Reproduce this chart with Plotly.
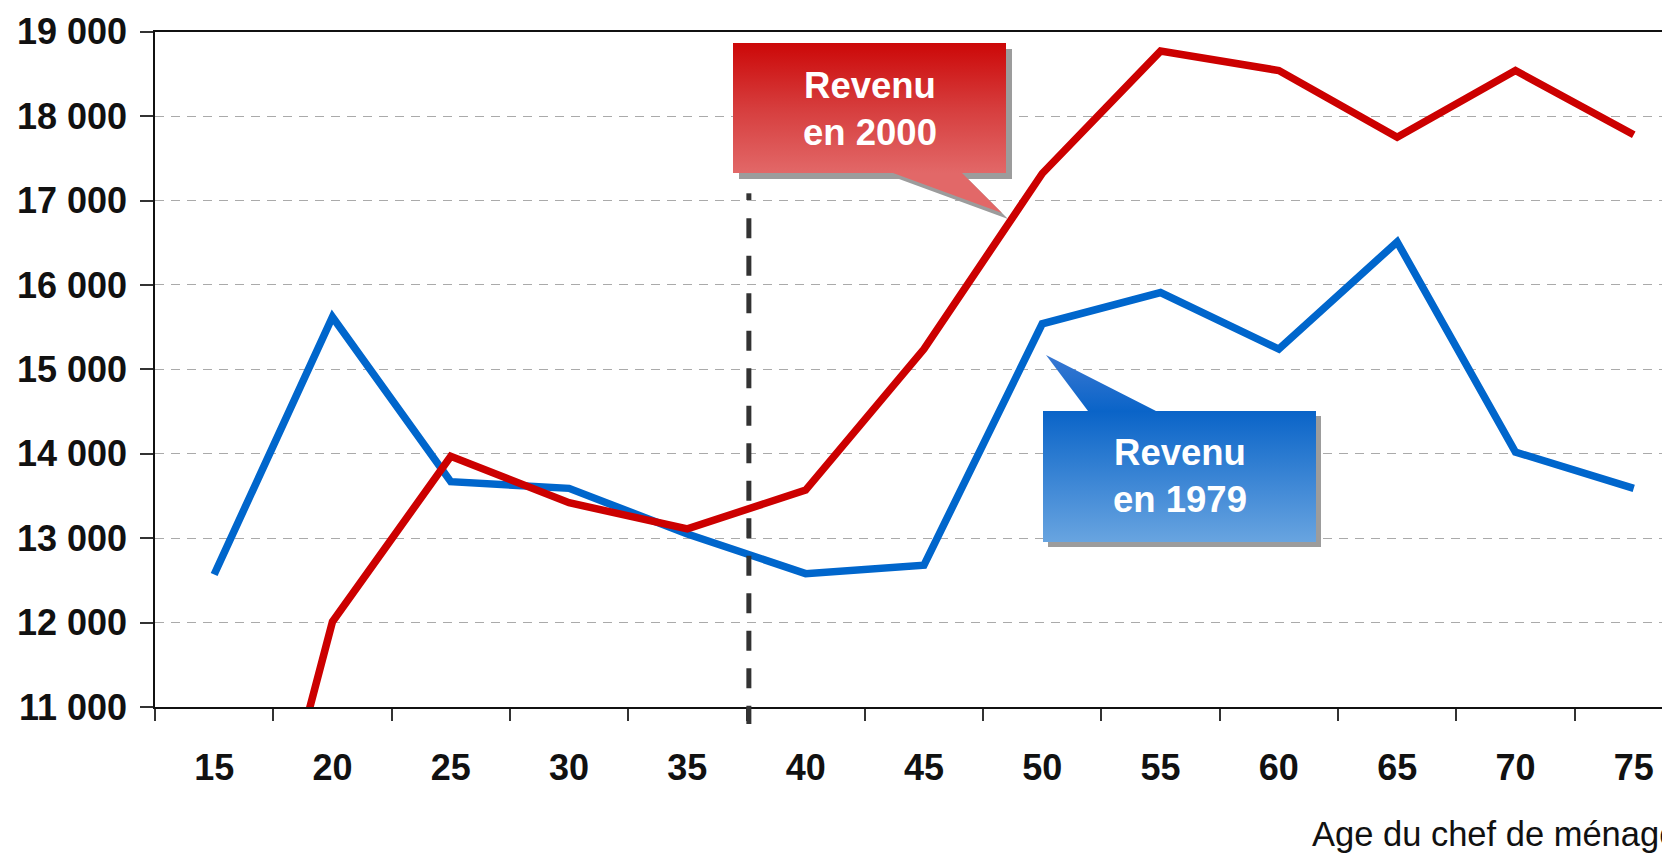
import plotly.graph_objects as go

# ---------------- data ----------------
ages = ["15", "20", "25", "30", "35", "40", "45", "50", "55", "60", "65", "70", "75"]
revenu_1979 = [12570, 15620, 13670, 13590, 13050, 12580, 12680, 15540, 15910, 15240, 16510, 14020, 13590]
revenu_2000 = [6700, 12010, 13970, 13420, 13110, 13570, 15240, 17320, 18770, 18540, 17750, 18540, 17780]
y_tick_vals = [11000, 12000, 13000, 14000, 15000, 16000, 17000, 18000, 19000]
y_tick_text = ["11 000", "12 000", "13 000", "14 000", "15 000", "16 000", "17 000", "18 000", "19 000"]
label_2000 = "Revenu<br>en 2000"
label_1979 = "Revenu<br>en 1979"
x_title = "Age du chef de ménage"

# ---------------- geometry (page pixels; the page body has an 8px margin) ----------------
OFF = 8
W, H = 1670 - OFF, 858 - OFF
PLOT_L, PLOT_R, PLOT_T, PLOT_B = 155, 1670, 31.7, 707
CAT_W = 118.3
x_end = -0.5 + (PLOT_R - PLOT_L) / CAT_W
VLINE_CAT = 4.52  # between 35 and 40
vline_px = PLOT_L + (VLINE_CAT + 0.5) * CAT_W

ARIAL = "Liberation Sans, Arial, sans-serif"

red_poly = [(733, 43), (1006, 43), (1006, 173), (962, 173), (1002, 213), (893, 173), (733, 173)]
blue_poly = [(1043, 411), (1088, 411), (1046, 355), (1156, 411), (1316, 411), (1316, 542), (1043, 542)]

fig = go.Figure()

fig.add_trace(go.Scatter(x=ages, y=revenu_1979, mode="lines", name="1979",
                         line=dict(color="#0066cc", width=7.5), hoverinfo="skip",
                         xaxis="x", yaxis="y"))
fig.add_trace(go.Scatter(x=ages, y=revenu_2000, mode="lines", name="2000",
                         line=dict(color="#cc0000", width=7.5), hoverinfo="skip",
                         xaxis="x", yaxis="y"))


def poly_trace(pts, dx=0, dy=0, **kw):
    xs = [p[0] + dx for p in pts] + [pts[0][0] + dx]
    ys = [p[1] + dy for p in pts] + [pts[0][1] + dy]
    return go.Scatter(x=xs, y=ys, mode="lines", fill="toself", line=dict(width=0),
                      hoverinfo="skip", xaxis="x2", yaxis="y2", **kw)


fig.add_trace(poly_trace(red_poly, 6, 6, fillcolor="#9c9c9c"))
fig.add_trace(poly_trace(blue_poly, 5, 5, fillcolor="#9c9c9c"))
fig.add_trace(poly_trace(red_poly, fillgradient=dict(
    type="vertical", start=43, stop=173,
    colorscale=[[0, "#cc0808"], [0.5, "#d63d3d"], [1, "#e26868"]])))
fig.add_trace(poly_trace(blue_poly, fillgradient=dict(
    type="vertical", start=355, stop=542,
    colorscale=[[0, "#3a78d2"], [0.3, "#0a64c8"], [1, "#68a4e0"]])))

fig.update_layout(
    width=W, height=H, template="none",
    margin=dict(l=0, r=0, t=0, b=0, autoexpand=False),
    paper_bgcolor="white", plot_bgcolor="rgba(0,0,0,0)",
    showlegend=False,
    xaxis=dict(
        type="category", categoryorder="array", categoryarray=ages,
        domain=[(PLOT_L - OFF) / W, 1], range=[-0.5, x_end], anchor="y",
        tickson="boundaries", ticks="outside", ticklen=12, tickwidth=1.5, tickcolor="#333",
        showline=True, linecolor="#111", linewidth=1.5, mirror=True,
        showgrid=False, zeroline=False, automargin=False, fixedrange=True,
        tickfont=dict(family=ARIAL, size=36, weight="bold", color="#111"),
        ticklabelstandoff=28,
    ),
    yaxis=dict(
        domain=[1 - (PLOT_B - OFF) / H, 1 - (PLOT_T - OFF) / H], range=[11000, 19000], anchor="x",
        tickmode="array", tickvals=y_tick_vals, ticktext=y_tick_text,
        ticks="outside", ticklen=13, tickwidth=1.5, tickcolor="#333",
        showline=True, linecolor="#111", linewidth=1.5,
        showgrid=True, gridcolor="#aaaaaa", gridwidth=1, griddash="9px,7px",
        zeroline=False, automargin=False, fixedrange=True,
        tickfont=dict(family=ARIAL, size=36, weight="bold", color="#111"),
        ticklabelstandoff=6,
    ),
    xaxis2=dict(domain=[0, 1], range=[OFF, OFF + W], visible=False, anchor="y2", fixedrange=True),
    yaxis2=dict(domain=[0, 1], range=[OFF + H, OFF], visible=False, anchor="x2", fixedrange=True),
)

fig.add_shape(type="line", xref="x2", yref="y2", x0=vline_px, x1=vline_px, y0=193.3, y1=200,
              line=dict(color="#333333", width=5))
fig.add_shape(type="line", xref="x2", yref="y2", x0=vline_px, x1=vline_px, y0=218.3, y1=724,
              line=dict(color="#333333", width=5, dash="20px,17.5px"))

fig.add_annotation(xref="x2", yref="y2", x=869.5, y=108.5, text=label_2000, showarrow=False,
                   xanchor="center", yanchor="middle", align="center",
                   font=dict(family=ARIAL, size=36.5, weight="bold", color="white"))
fig.add_annotation(xref="x2", yref="y2", x=1179.5, y=476, text=label_1979, showarrow=False,
                   xanchor="center", yanchor="middle", align="center",
                   font=dict(family=ARIAL, size=36.5, weight="bold", color="white"))
fig.add_annotation(xref="x2", yref="y2", x=1310, y=834, text=x_title, showarrow=False,
                   xanchor="left", yanchor="middle",
                   font=dict(family=ARIAL, size=34.5, color="#111"))

fig.write_html("out.html")
